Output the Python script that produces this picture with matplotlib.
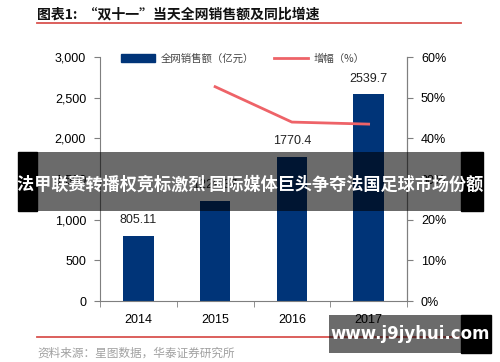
import matplotlib.pyplot as plt
from matplotlib.patches import Rectangle
from matplotlib.lines import Line2D
from matplotlib.ticker import FuncFormatter

plt.rcParams['font.family'] = ['Liberation Sans', 'Noto Sans CJK SC', 'DejaVu Sans']

years = ['2014', '2015', '2016', '2017']
sales = [805.11, 1229.37, 1770.4, 2539.7]
sales_labels = ['805.11', '1229.37', '1770.4', '2539.7']
growth_years = [1, 2, 3]
growth = [52.7, 44.0, 43.5]

title = '图表1:  “双十一”当天全网销售额及同比增速'
source = '资料来源：星图数据，华泰证券研究所'
banner = '法甲联赛转播权竞标激烈 国际媒体巨头争夺法国足球市场份额'
mark = 'www.j9jyhui.com'

bar_color = '#003478'
line_color = '#EE6368'
axis_color = '#7f7f7f'
cjk = ['Noto Sans CJK SC', 'DejaVu Sans']

fig = plt.figure(figsize=(5, 3.62), dpi=100)
ax = fig.add_axes([0.2, 0.1685, 0.614, 0.674])
x = list(range(len(years)))
ax.bar(x, sales, width=0.4, color=bar_color, zorder=2)
for xi, v, lab in zip(x, sales, sales_labels):
    ax.annotate(lab, (xi, v), xytext=(0, 7), textcoords='offset points',
                ha='center', va='bottom', fontsize=9, color='#222222')
ax.set_xlim(-0.5, 3.5)
ax.set_ylim(0, 3000)
ax.set_yticks(range(0, 3001, 500))
ax.yaxis.set_major_formatter(FuncFormatter(lambda v, p: f'{int(v):,}'))
ax.set_xticks(x)
ax.set_xticklabels(years)
ax.set_xticks([-0.5, 0.5, 1.5, 2.5, 3.5], minor=True)
ax.tick_params(axis='x', which='major', length=0, pad=9, labelsize=9)
ax.tick_params(axis='x', which='minor', length=4, direction='out', color=axis_color)
ax.tick_params(axis='y', length=4, direction='out', color=axis_color, labelsize=9, pad=6)
ax.spines['top'].set_visible(False)
for s in ['left', 'bottom', 'right']:
    ax.spines[s].set_color(axis_color)

ax2 = ax.twinx()
ax2.plot(growth_years, growth, color=line_color, lw=2, zorder=3)
ax2.set_ylim(0, 60)
ax2.set_yticks(range(0, 61, 10))
ax2.yaxis.set_major_formatter(FuncFormatter(lambda v, p: f'{int(v)}%'))
ax2.tick_params(axis='y', length=4, direction='out', color=axis_color, labelsize=9, pad=6)
ax2.spines['top'].set_visible(False)
ax2.spines['left'].set_visible(False)
ax2.spines['bottom'].set_visible(False)
ax2.spines['right'].set_color(axis_color)

# legend
handles = [Rectangle((0, 0), 1, 1, color=bar_color), Line2D([], [], color=line_color, lw=2)]
leg = ax.legend(handles, ['全网销售额（亿元）', '增幅（%）'], loc='upper left',
                bbox_to_anchor=(0.068, 1.015), ncol=2, frameon=False,
                borderpad=0, borderaxespad=0, handlelength=3.3, handletextpad=0.5,
                columnspacing=1.9, prop={'family': cjk, 'size': 7.5})
for t in leg.get_texts():
    t.set_color('#444444')

# title and source
fig.text(0.074, 0.96, title, fontsize=10, fontweight='bold', family=cjk, va='center', color='#111111')
fig.add_artist(Line2D([0.074, 0.922], [0.936, 0.936], color='#d9534f', lw=1.3))
fig.add_artist(Line2D([0.074, 0.922], [0.069, 0.069], color='#d9534f', lw=1.3))
fig.text(0.074, 0.025, source, fontsize=8.4, family=cjk, va='center', color='#a0a0a0')

# overlay banner
fig.add_artist(Rectangle((0.036, 0.417), 0.038, 0.163, color='black', zorder=10))
fig.add_artist(Rectangle((0.074, 0.417), 0.848, 0.163, color='black', alpha=0.58, lw=0, zorder=10))
fig.add_artist(Rectangle((0.922, 0.417), 0.044, 0.163, color='black', zorder=10))
fig.text(0.5, 0.489, banner, fontsize=12.3, fontweight='bold', family=cjk, color='white',
         ha='center', va='center', zorder=11)

# watermark
fig.add_artist(Rectangle((0.658, 0.025), 0.264, 0.105, color='black', alpha=0.58, lw=0, zorder=10))
fig.add_artist(Rectangle((0.922, 0.025), 0.06, 0.105, color='black', zorder=10))
fig.text(0.82, 0.077, mark, fontsize=12, fontweight='bold', family=['DejaVu Sans'], color='white',
         ha='center', va='center', zorder=11)

fig.savefig('out.png', dpi=100)
